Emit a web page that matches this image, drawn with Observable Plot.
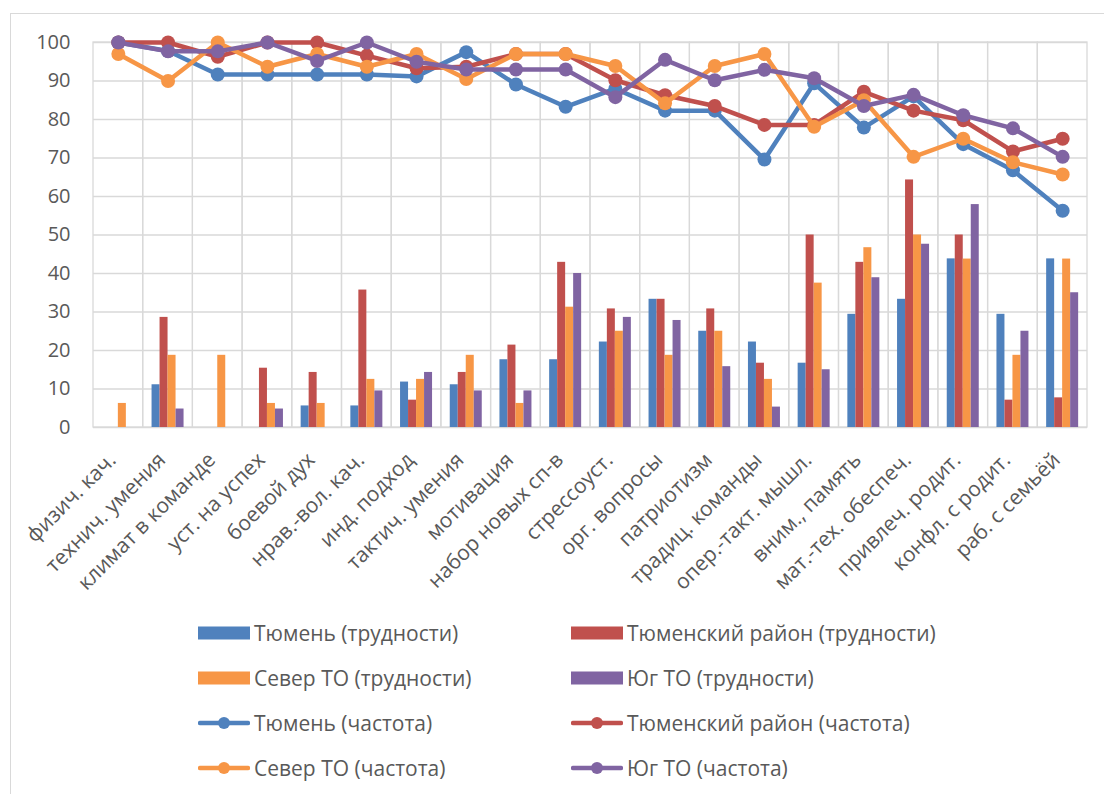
<!DOCTYPE html>
<html>
<head>
<meta charset="utf-8">
<script src="https://cdn.jsdelivr.net/npm/d3@7"></script>
<script src="https://cdn.jsdelivr.net/npm/@observablehq/plot@0.6"></script>
<style>
  html, body { margin: 0; padding: 0; background: #fff; }
  #wrap { position: relative; width: 1104px; height: 794px; overflow: hidden; font-family: "Open Sans", sans-serif; }
  #frame { position: absolute; left: 10px; top: 13px; width: 1110px; height: 800px; border: 1.3px solid #d9d9d9; box-sizing: border-box; }
  #chart { position: absolute; left: 0; top: 0; }
  #legend { position: absolute; left: 198px; top: 610px; display: grid; grid-template-columns: 373px 373px; grid-auto-rows: 45px; }
  .item { display: flex; align-items: center; color: #595959; font-size: 21px; white-space: nowrap; }
  .item svg { margin-right: 4px; flex: none; }
</style>
</head>
<body>
<div id="wrap">
  <div id="frame"></div>
  <div id="chart"></div>
  <div id="legend"></div>
</div>
<script>
const categories = ["физич. кач.", "технич. умения", "климат в команде", "уст. на успех", "боевой дух", "нрав.-вол. кач.", "инд. подход", "тактич. умения", "мотивация", "набор новых сп-в", "стрессоуст.", "орг. вопросы", "патриотизм", "традиц. команды", "опер.-такт. мышл.", "вним., память", "мат.-тех. обеспеч.", "привлеч. родит.", "конфл. с родит.", "раб. с семьёй"];

const seriesNames = ["Тюмень", "Тюменский район", "Север ТО", "Юг ТО"];
const seriesColors = ["#4F81BD", "#C0504D", "#F79646", "#8064A2"];

// трудности (bars)
const tyumenDifficulty = [0, 11.1, 0, 0, 5.6, 5.6, 11.8, 11.1, 17.6, 17.6, 22.2, 33.3, 25.0, 22.2, 16.7, 29.4, 33.3, 43.8, 29.4, 43.8];
const raionDifficulty  = [0, 28.6, 0, 15.4, 14.3, 35.7, 7.1, 14.3, 21.4, 42.9, 30.8, 33.3, 30.8, 16.7, 50.0, 42.9, 64.3, 50.0, 7.1, 7.7];
const severDifficulty  = [6.25, 18.75, 18.75, 6.25, 6.25, 12.5, 12.5, 18.75, 6.25, 31.25, 25.0, 18.75, 25.0, 12.5, 37.5, 46.7, 50.0, 43.75, 18.75, 43.75];
const yugDifficulty    = [0, 4.8, 0, 4.8, 0, 9.5, 14.3, 9.5, 9.5, 40.0, 28.6, 27.8, 15.8, 5.3, 15.0, 38.9, 47.6, 57.9, 25.0, 35.0];

// частота (lines)
const tyumenFrequency = [100, 97.8, 91.7, 91.7, 91.7, 91.7, 91.2, 97.5, 89.1, 83.3, 88.0, 82.3, 82.3, 69.6, 89.4, 77.9, 86.0, 73.6, 66.8, 56.3];
const raionFrequency  = [100, 100, 96.3, 100, 100, 96.6, 93.3, 93.7, 97.0, 97.0, 90.2, 86.3, 83.5, 78.6, 78.6, 87.2, 82.3, 79.8, 71.7, 75.0];
const severFrequency  = [97.0, 90.0, 100, 93.7, 97.0, 93.7, 97.0, 90.5, 97.0, 97.0, 93.9, 84.2, 93.9, 97.0, 78.1, 85.0, 70.3, 75.0, 68.9, 65.7];
const yugFrequency    = [100, 97.7, 97.7, 100, 95.2, 100, 95.0, 93.0, 93.0, 93.0, 85.8, 95.5, 90.2, 92.9, 90.7, 83.5, 86.4, 81.1, 77.7, 70.3];

const yTicks = [0, 10, 20, 30, 40, 50, 60, 70, 80, 90, 100];

const difficulty = [tyumenDifficulty, raionDifficulty, severDifficulty, yugDifficulty];
const frequency = [tyumenFrequency, raionFrequency, severFrequency, yugFrequency];

const W = 1104, H = 600, mL = 93, mR = 17, mT = 42, mB = H - 427;
const bw = (W - mL - mR) / categories.length;
const barW = 8;
const font = "'Open Sans', sans-serif";

const marks = [];
// vertical band gridlines (cell borders)
marks.push(Plot.barY(categories, {x: d => d, y1: () => 0, y2: () => 100, fill: "none", stroke: "#d9d9d9", strokeWidth: 1.3}));
marks.push(Plot.gridY(yTicks, {stroke: "#d9d9d9", strokeOpacity: 1, strokeWidth: 1.3}));

difficulty.forEach((vals, j) => {
  const rows = categories.map((c, i) => ({cat: c, v: vals[i]}));
  marks.push(Plot.barY(rows, {
    x: "cat", y: "v", fill: seriesColors[j],
    insetLeft: (bw - barW) / 2, insetRight: (bw - barW) / 2,
    dx: (j - 1.5) * barW
  }));
});

frequency.forEach((vals, j) => {
  const rows = categories.map((c, i) => ({cat: c, v: vals[i]}));
  marks.push(Plot.lineY(rows, {x: "cat", y: "v", stroke: seriesColors[j], strokeWidth: 4.5, strokeLinejoin: "round"}));
  marks.push(Plot.dot(rows, {x: "cat", y: "v", fill: seriesColors[j], r: 7}));
});

marks.push(Plot.axisY(yTicks, {tickSize: 0, tickPadding: 23, fontSize: 20, color: "#595959", label: null}));
marks.push(Plot.axisX({tickSize: 0, tickPadding: 29, dx: -6, tickRotate: -45, fontSize: 21, color: "#595959", label: null}));

const chart = Plot.plot({
  width: W, height: H,
  marginLeft: mL, marginRight: mR, marginTop: mT, marginBottom: mB,
  style: {fontFamily: font, background: "transparent", overflow: "visible"},
  x: {type: "band", domain: categories, padding: 0, round: false, label: null},
  y: {domain: [0, 100], label: null},
  marks
});
document.getElementById("chart").appendChild(chart);

// legend
const legend = document.getElementById("legend");
const legendItems = [];
seriesNames.forEach((n, j) => legendItems.push({label: n + " (трудности)", color: seriesColors[j], kind: "bar"}));
seriesNames.forEach((n, j) => legendItems.push({label: n + " (частота)", color: seriesColors[j], kind: "line"}));
legendItems.forEach(it => {
  const div = document.createElement("div");
  div.className = "item";
  const sw = it.kind === "bar"
    ? `<svg width="52" height="14"><rect x="0" y="0.5" width="52" height="13" fill="${it.color}"/></svg>`
    : `<svg width="52" height="14"><line x1="2" y1="7" x2="50" y2="7" stroke="${it.color}" stroke-width="4.5" stroke-linecap="round"/><circle cx="26" cy="7" r="6" fill="${it.color}"/></svg>`;
  div.innerHTML = sw + `<span>${it.label}</span>`;
  legend.appendChild(div);
});
</script>
</body>
</html>
